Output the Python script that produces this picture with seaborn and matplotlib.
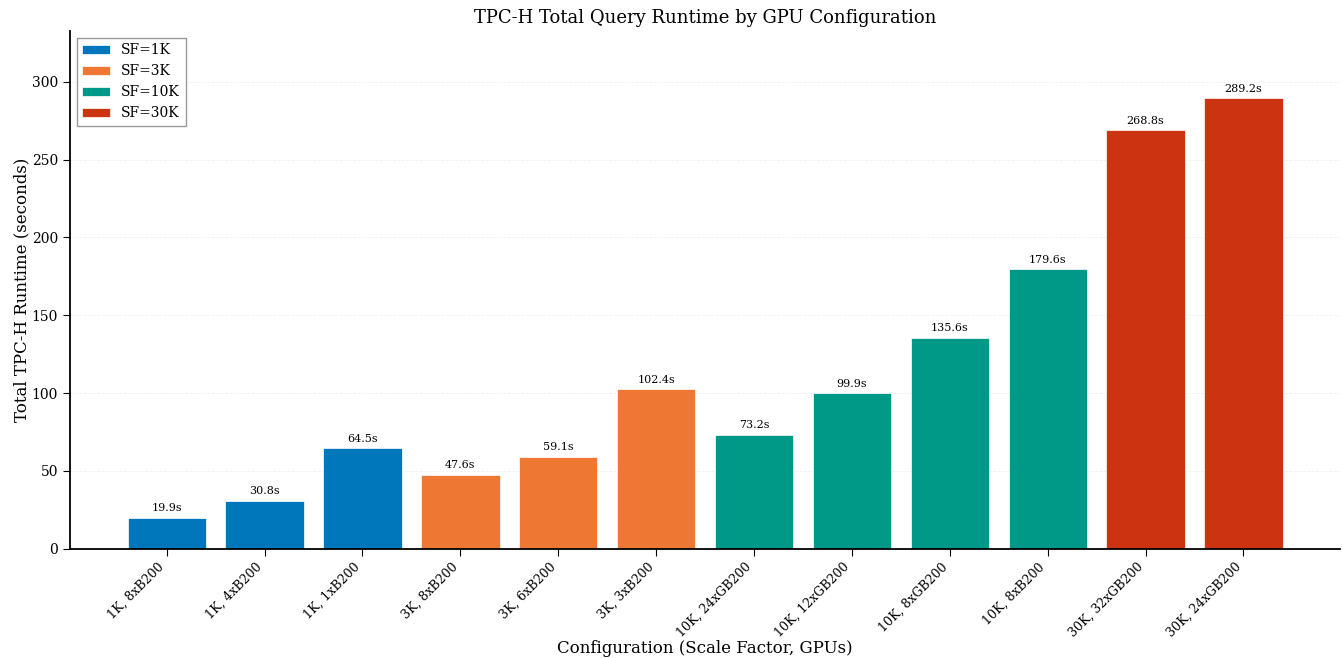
import numpy as np
import pandas as pd
import seaborn as sns
import matplotlib.pyplot as plt

configs = ["1K, 8xB200", "1K, 4xB200", "1K, 1xB200",
           "3K, 8xB200", "3K, 6xB200", "3K, 3xB200",
           "10K, 24xGB200", "10K, 12xGB200", "10K, 8xGB200", "10K, 8xB200",
           "30K, 32xGB200", "30K, 24xGB200"]
scale_factors = ["SF=1K"] * 3 + ["SF=3K"] * 3 + ["SF=10K"] * 4 + ["SF=30K"] * 2
runtimes = [19.9, 30.8, 64.5, 47.6, 59.1, 102.4, 73.2, 99.9, 135.6, 179.6, 268.8, 289.2]
sf_order = ["SF=1K", "SF=3K", "SF=10K", "SF=30K"]
colors = ["#0077BB", "#EE7733", "#009988", "#CC3311"]

df = pd.DataFrame({"config": configs, "sf": scale_factors, "runtime": runtimes})

sns.set_style("ticks")
plt.rcParams['font.family'] = ['DejaVu Serif']
plt.rcParams.update({"text.color": "black", "axes.labelcolor": "black",
                     "xtick.color": "black", "ytick.color": "black",
                     "axes.edgecolor": "black"})

fig, ax = plt.subplots(figsize=(13.43, 6.58), dpi=100)
sns.barplot(data=df, x="config", y="runtime", hue="sf", hue_order=sf_order,
            palette=colors, dodge=False, width=0.8, saturation=1,
            edgecolor="white", linewidth=0.5, ax=ax)

ymax = max(runtimes)
for i, v in enumerate(runtimes):
    ax.text(i, v + ymax * 0.01, f"{v:.1f}s", ha="center", va="bottom", fontsize=8)

ax.set_ylim(0, ymax * 1.15)
ax.set_xlim(-0.99, len(configs) - 0.01)
ax.set_title("TPC-H Total Query Runtime by GPU Configuration", fontsize=13)
ax.set_xlabel("Configuration (Scale Factor, GPUs)", fontsize=12, labelpad=0)
ax.set_ylabel("Total TPC-H Runtime (seconds)", fontsize=12, labelpad=1)
ax.tick_params(axis="x", labelsize=9, length=5)
ax.tick_params(axis="y", labelsize=10, length=5)
plt.setp(ax.get_xticklabels(), rotation=45, ha="right")
ax.yaxis.grid(True, linestyle="--", alpha=0.3, linewidth=0.6)
ax.set_axisbelow(True)
sns.despine(ax=ax)
for s in ["left", "bottom"]:
    ax.spines[s].set_linewidth(1.3)

leg = ax.legend(loc="upper left", fontsize=10, fancybox=False, edgecolor="gray")
leg.set_title(None)

fig.subplots_adjust(left=0.052, right=0.998, top=0.953, bottom=0.166)
plt.savefig("out.png", dpi=100)
